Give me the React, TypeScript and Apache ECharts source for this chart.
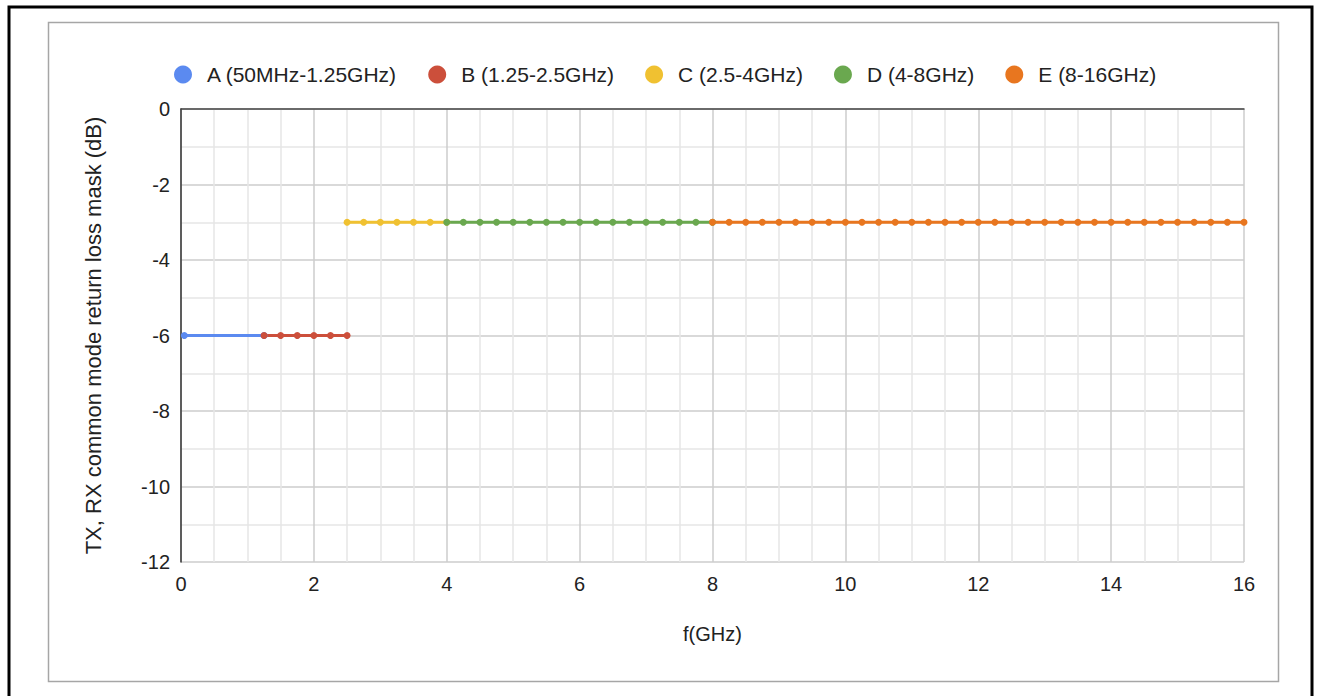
import React, { useEffect, useRef } from "react";
import * as echarts from "echarts";

const seriesNames = ["A (50MHz-1.25GHz)", "B (1.25-2.5GHz)", "C (2.5-4GHz)", "D (4-8GHz)", "E (8-16GHz)"];
const colors = ["#5b8af0", "#cc4f3b", "#f0c131", "#6aa84f", "#e8761f"];

const aX = [0.05, 1.25];
const aY = [-6, -6];
const bX = [1.25, 1.5, 1.75, 2.0, 2.25, 2.5];
const bY = [-6, -6, -6, -6, -6, -6];
const cX = [2.5, 2.75, 3.0, 3.25, 3.5, 3.75, 4.0];
const cY = [-3, -3, -3, -3, -3, -3, -3];
const dX = [4.0, 4.25, 4.5, 4.75, 5.0, 5.25, 5.5, 5.75, 6.0, 6.25, 6.5, 6.75, 7.0, 7.25, 7.5, 7.75, 8.0];
const dY = [-3, -3, -3, -3, -3, -3, -3, -3, -3, -3, -3, -3, -3, -3, -3, -3, -3];
const eX = [8.0, 8.25, 8.5, 8.75, 9.0, 9.25, 9.5, 9.75, 10.0, 10.25, 10.5, 10.75, 11.0, 11.25, 11.5, 11.75, 12.0, 12.25, 12.5, 12.75, 13.0, 13.25, 13.5, 13.75, 14.0, 14.25, 14.5, 14.75, 15.0, 15.25, 15.5, 15.75, 16.0];
const eY = [-3, -3, -3, -3, -3, -3, -3, -3, -3, -3, -3, -3, -3, -3, -3, -3, -3, -3, -3, -3, -3, -3, -3, -3, -3, -3, -3, -3, -3, -3, -3, -3, -3];

const xs = [aX, bX, cX, dX, eX];
const ys = [aY, bY, cY, dY, eY];

const xTitle = "f(GHz)";
const yTitle = "TX, RX common mode return loss mask (dB)";

const FONT = "'Liberation Sans', Arial, Helvetica, sans-serif";

export default function App() {
  const ref = useRef<HTMLDivElement>(null);
  useEffect(() => {
    if (!ref.current) return;
    const chart = echarts.init(ref.current, null, { renderer: "svg" });
    const series = seriesNames.map((name, i) => ({
      name,
      type: "line",
      data: xs[i].map((x, j) => [x, ys[i][j]]),
      symbol: "circle",
      symbolSize: 7,
      showSymbol: true,
      lineStyle: { width: 3, color: colors[i] },
      itemStyle: { color: colors[i] },
      color: colors[i],
      xAxisIndex: 0,
      yAxisIndex: 0,
    }));
    chart.setOption({
      animation: false,
      backgroundColor: "#ffffff",
      textStyle: { fontFamily: FONT },
      graphic: [
        {
          type: "rect",
          shape: { x: 9, y: 7, width: 1303, height: 720 },
          style: { fill: "none", stroke: "#000000", lineWidth: 3 },
          silent: true,
          z: -10,
        },
        {
          type: "rect",
          shape: { x: 48.5, y: 22.5, width: 1230, height: 659 },
          style: { fill: "none", stroke: "#a6a6a6", lineWidth: 1.5 },
          silent: true,
          z: -10,
        },
      ],
      legend: {
        data: seriesNames,
        top: 59,
        left: 169,
        icon: "circle",
        itemWidth: 18,
        itemHeight: 18,
        itemGap: 31,
        textStyle: { fontSize: 21, color: "#222222", fontFamily: FONT, padding: [0, 0, 0, 10] },
      },
      grid: { left: 181, right: 75, top: 109, bottom: 134, containLabel: false },
      xAxis: [
        {
          type: "value",
          min: 0,
          max: 16,
          interval: 2,
          position: "bottom",
          axisLine: { show: false, onZero: false },
          axisTick: { show: false },
          axisLabel: { fontSize: 20, color: "#222222", margin: 12, fontFamily: FONT },
          splitLine: { show: true, lineStyle: { color: "#cccccc", width: 1.5 } },
          minorTick: { show: false, splitNumber: 4 },
          minorSplitLine: { show: true, lineStyle: { color: "#e6e6e6", width: 1.5 } },
          name: xTitle,
          nameLocation: "middle",
          nameGap: 62,
          nameTextStyle: { fontSize: 20, color: "#222222", fontFamily: FONT },
        },
        {
          type: "value",
          min: 0,
          max: 16,
          interval: 2,
          position: "top",
          axisLine: { show: true, onZero: false, lineStyle: { color: "#444444", width: 1.5 } },
          axisTick: { show: false },
          axisLabel: { show: false },
          splitLine: { show: false },
        },
      ],
      yAxis: {
        type: "value",
        min: -12,
        max: 0,
        interval: 2,
        axisLine: { show: true, onZero: false, lineStyle: { color: "#333333", width: 1.5 } },
        axisTick: { show: false },
        axisLabel: { fontSize: 20, color: "#222222", margin: 11, fontFamily: FONT },
        splitLine: { show: true, lineStyle: { color: "#cccccc", width: 1.5 } },
        minorTick: { show: false, splitNumber: 2 },
        minorSplitLine: { show: true, lineStyle: { color: "#e6e6e6", width: 1.5 } },
        name: yTitle,
        nameLocation: "middle",
        nameRotate: 90,
        nameGap: 77,
        nameTextStyle: { fontSize: 22, color: "#222222", fontFamily: FONT },
      },
      series,
    });
    return () => chart.dispose();
  }, []);
  return (
    <div
      ref={ref}
      style={{ position: "fixed", left: 0, top: 0, width: 1319, height: 696 }}
    />
  );
}
